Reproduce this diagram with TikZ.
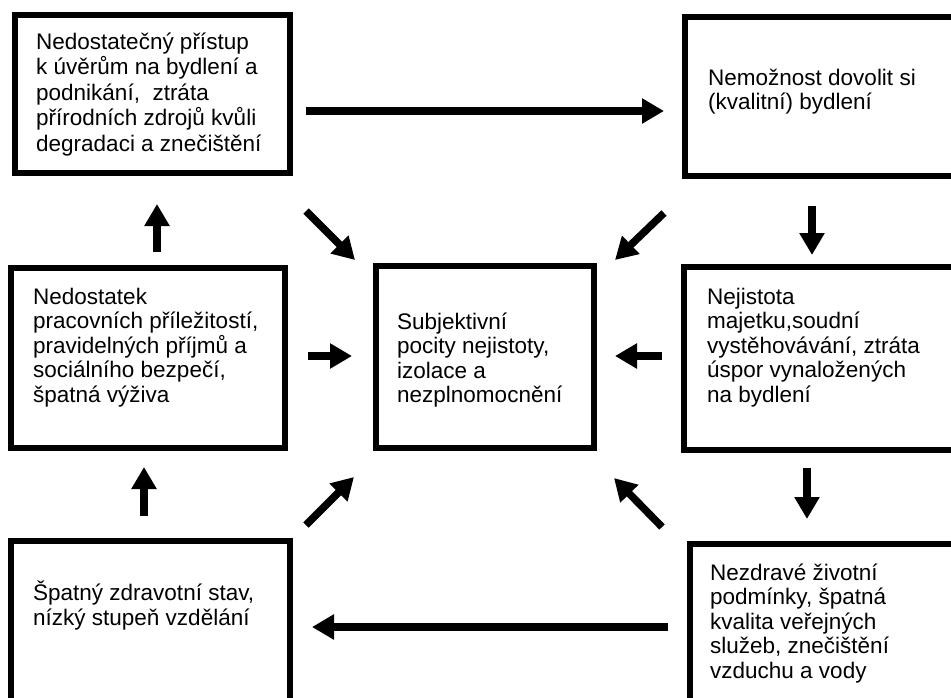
\documentclass[tikz,border=0pt]{standalone}
\usepackage{fontspec}
\setmainfont{Liberation Sans}
\usetikzlibrary{arrows.meta,calc}
\begin{document}
\begin{tikzpicture}[x=1pt,y=-1pt,
  box/.style={draw, line width=6pt, inner sep=0pt},
  txt/.style={anchor=base west, align=left, inner sep=0pt, font=\fontsize{22.5}{24.5}\selectfont},
  arr/.style={line width=7.5pt, -{Triangle[width=24pt,length=22pt]}}]
\useasboundingbox (0,0) rectangle (951,697);
\clip (0,0) rectangle (951,697);
% boxes
\node[box, minimum width=275pt, minimum height=158pt] (b1) at (152.5,94) {};
\node[box, minimum width=280pt, minimum height=159pt] (b2) at (825,96.5) {};
\node[box, minimum width=274pt, minimum height=180pt] (b3) at (148,358) {};
\node[box, minimum width=218pt, minimum height=182pt] (b4) at (485,357) {};
\node[box, minimum width=281pt, minimum height=183pt] (b5) at (824.5,358.5) {};
\node[box, minimum width=279pt, minimum height=179pt] (b6) at (150.5,630.5) {};
\node[box, minimum width=275pt, minimum height=176pt] (b7) at (827.5,632) {};
% texts (anchor = baseline of last line)
\node[txt, font=\fontsize{22.5}{25.5}\selectfont] (t1) at (36,151) {Nedostatečný přístup\\k úvěrům na bydlení a\\podnikání,\ \ ztráta\\přírodních zdrojů kvůli\\degradaci a znečištění};
\node[txt] (t2) at (708,109.5) {Nemožnost dovolit si\\(kvalitní) bydlení};
\node[txt] (t3) at (33,402) {Nedostatek\\pracovních příležitostí,\\pravidelných příjmů a\\sociálního bezpečí,\\špatná výživa};
\node[txt] (t4) at (397,402.5) {Subjektivní\\pocity nejistoty,\\izolace a\\nezplnomocnění};
\node[txt] (t5) at (707,402) {Nejistota\\majetku,soudní\\vystěhovávání, ztráta\\úspor vynaložených\\na bydlení};
\node[txt] (t6) at (33,625) {Špatný zdravotní stav,\\nízký stupeň vzdělání};
\node[txt] (t7) at (710,678) {Nezdravé životní\\podmínky, špatná\\kvalita veřejných\\služeb, znečištění\\vzduchu a vody};
% straight arrows
\draw[arr] ($(b1.east)+(13,17)$) -- ($(b2.west)+(-18,14.5)$);
\draw[arr] ($(b2.south)+(-13,27)$) -- ($(b5.north)+(-12.5,-9)$);
\draw[arr] ($(b5.south)+(-17.5,15)$) -- ($(b7.north)+(-20.5,-22)$);
\draw[arr] ($(b3.north)+(9,-13)$) -- ($(b1.south)+(4.5,28)$);
\draw[arr] ($(b6.north)+(-6.5,-22)$) -- ($(b3.south)+(-4,16)$);
\draw[arr] ($(b3.east)+(20,-2)$) -- ($(b4.west)+(-21,-1)$);
\draw[arr] ($(b5.west)+(-19,-2.5)$) -- ($(b4.east)+(18,-1)$);
\draw[arr] ($(b7.west)+(-19,-5)$) -- ($(b6.east)+(19,-3.5)$);
% diagonal arrows
\draw[arr] ($(b1.south east)+(13,35)$) -- ($(b4.north west)+(-18,-3)$);
\draw[arr] ($(b2.south west)+(-18,34)$) -- ($(b4.north east)+(18,-3)$);
\draw[arr] ($(b6.north east)+(13,-13)$) -- ($(b4.south west)+(-19,26)$);
\draw[arr] ($(b7.north west)+(-25,-14)$) -- ($(b4.south east)+(17,27)$);
\end{tikzpicture}
\end{document}
